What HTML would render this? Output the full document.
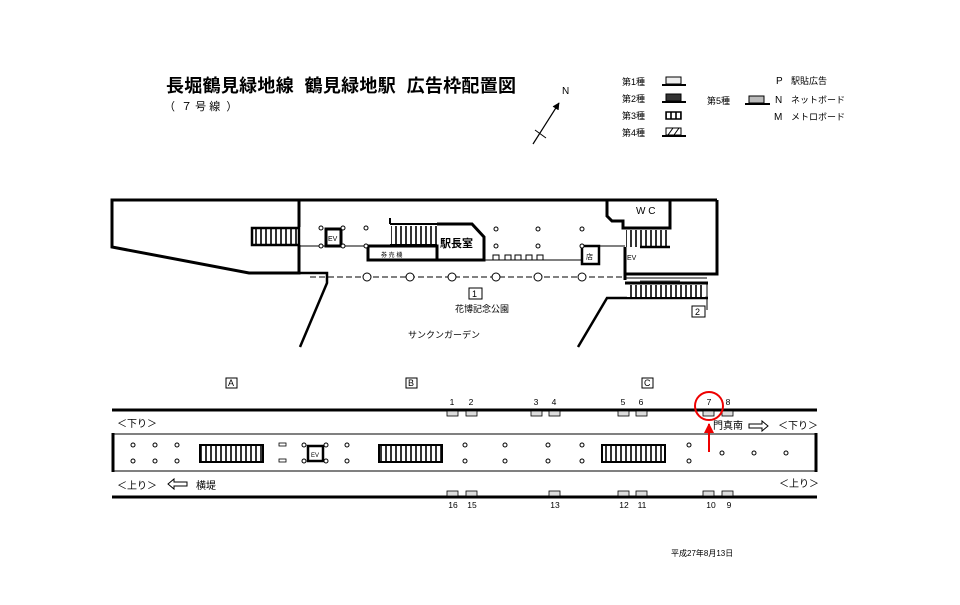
<!DOCTYPE html>
<html><head><meta charset="utf-8"><style>
html,body{margin:0;padding:0;background:#fff;}
svg{display:block;font-family:"Liberation Sans","Noto Sans CJK JP",sans-serif;}
</style></head><body>
<svg width="960" height="605" viewBox="0 0 960 605" xmlns="http://www.w3.org/2000/svg">
<defs>
<pattern id="st" width="5" height="10" patternUnits="userSpaceOnUse"><rect width="5" height="10" fill="#fff"/><line x1="1" y1="0" x2="1" y2="10" stroke="#000" stroke-width="1.6"/></pattern>
<marker id="ah" viewBox="0 0 10 10" refX="9" refY="5" markerWidth="6" markerHeight="6" orient="auto"><path d="M0,0L10,5L0,10z" fill="#000"/></marker>
<marker id="rh" viewBox="0 0 10 10" refX="9" refY="5" markerWidth="5" markerHeight="5" orient="auto"><path d="M0,0L10,5L0,10z" fill="#e00"/></marker>
</defs>
<!-- title -->
<text x="166" y="92" font-size="18" font-weight="bold" textLength="350" lengthAdjust="spacing" xml:space="preserve">長堀鶴見緑地線  鶴見緑地駅  広告枠配置図</text>
<text x="164" y="110" font-size="11" xml:space="preserve">（  ７ 号 線  ）</text>
<!-- north -->
<line x1="533" y1="144" x2="559" y2="103" stroke="#000" stroke-width="1.2" marker-end="url(#ah)"/>
<line x1="535" y1="130" x2="546" y2="138" stroke="#000" stroke-width="1"/>
<text x="562" y="94" font-size="10">N</text>
<!-- legend -->
<g font-size="9">
<text x="622" y="85">第1種</text><rect x="666" y="77" width="15" height="7" fill="#eee" stroke="#000"/><line x1="662" y1="85" x2="686" y2="85" stroke="#000" stroke-width="2"/>
<text x="622" y="102">第2種</text><rect x="666" y="94" width="15" height="7" fill="#333" stroke="#000"/><line x1="662" y1="102" x2="686" y2="102" stroke="#000" stroke-width="2"/>
<text x="622" y="119">第3種</text><rect x="666" y="112" width="15" height="7" fill="url(#st)" stroke="#000" stroke-width="1.5"/>
<text x="622" y="136">第4種</text><rect x="666" y="128" width="15" height="7" fill="#fff" stroke="#000"/><path d="M668,135l5,-7M674,135l5,-7" stroke="#000"/><line x1="662" y1="136" x2="686" y2="136" stroke="#000" stroke-width="2"/>
<text x="707" y="104">第5種</text><rect x="749" y="96" width="15" height="7" fill="#bbb" stroke="#000"/><line x1="745" y1="104" x2="770" y2="104" stroke="#000" stroke-width="2"/>
<text x="776" y="84" font-size="10">P</text><text x="791" y="84">駅貼広告</text>
<text x="775" y="103" font-size="10">N</text><text x="791" y="103">ネットボード</text>
<text x="774" y="120" font-size="10">M</text><text x="791" y="120">メトロボード</text>
</g>
<!-- concourse -->
<g fill="none" stroke="#000" stroke-width="3">
<polyline points="299,227 299,200 112,200 112,247 249,273 299,273 299,245"/>
<line x1="299" y1="200" x2="717" y2="200"/>
<polyline points="299,273 327,273 327,283 300,347" stroke-width="2.5"/>
<polyline points="607,200 607,216 612,221 623,221 623,228 670,228 670,200" />
<polyline points="717,200 717,274 625,274"/>
<polyline points="625,247 625,280"/>
<polyline points="368,246 368,260 437,260 437,246 368,246"/>
<polyline points="437,224 472,224 484,237 484,260 437,260"/>
<rect x="326" y="229" width="15" height="17"/>
<rect x="582" y="246" width="17" height="18" stroke-width="2.5"/>
<polyline points="625,283 708,283"/>
<polyline points="708,298 607,298 578,347" stroke-width="2.5"/>
</g>
<rect x="252" y="228" width="47" height="17" fill="url(#st)" stroke="#000" stroke-width="2.5"/>
<rect x="391" y="226" width="46" height="19" fill="url(#st)" stroke="none"/>
<path d="M390,224H437M390,245H437M390,224V218" stroke="#000" stroke-width="2" fill="none"/>
<rect x="626" y="230" width="43" height="17" fill="url(#st)"/><line x1="640" y1="247" x2="670" y2="247" stroke="#000" stroke-width="2.5"/>
<rect x="627" y="285" width="78" height="12" fill="url(#st)"/>
<line x1="707" y1="283" x2="707" y2="310" stroke="#000"/>
<line x1="625" y1="278" x2="707" y2="278" stroke="#000" stroke-width="1"/>
<line x1="640" y1="281" x2="680" y2="281" stroke="#000" stroke-width="0.8"/>
<line x1="299" y1="246" x2="368" y2="246" stroke="#000" stroke-width="1"/>
<line x1="484" y1="260" x2="582" y2="260" stroke="#000" stroke-width="1"/>
<line x1="582" y1="246" x2="625" y2="246" stroke="#000" stroke-width="1"/>
<line x1="310" y1="277" x2="625" y2="277" stroke="#000" stroke-width="1" stroke-dasharray="6,3"/>
<g fill="#fff" stroke="#000" stroke-width="1">
<circle cx="367" cy="277" r="4"/><circle cx="410" cy="277" r="4"/><circle cx="452" cy="277" r="4"/><circle cx="496" cy="277" r="4"/><circle cx="538" cy="277" r="4"/><circle cx="582" cy="277" r="4"/>
<circle cx="321" cy="228" r="2"/><circle cx="343" cy="228" r="2"/><circle cx="366" cy="228" r="2"/><circle cx="321" cy="246" r="2"/><circle cx="343" cy="246" r="2"/><circle cx="366" cy="246" r="2"/>
<circle cx="496" cy="229" r="2"/><circle cx="538" cy="229" r="2"/><circle cx="582" cy="229" r="2"/><circle cx="496" cy="246" r="2"/><circle cx="538" cy="246" r="2"/><circle cx="582" cy="246" r="2"/>
<rect x="493" y="255" width="6" height="5"/><rect x="505" y="255" width="6" height="5"/><rect x="515" y="255" width="6" height="5"/><rect x="526" y="255" width="6" height="5"/><rect x="537" y="255" width="6" height="5"/>
</g>
<g font-size="7"><text x="328" y="241">EV</text><text x="586" y="259">店</text><text x="627" y="260">EV</text><text x="381" y="257" font-size="6">券 売 機</text></g>
<text x="440" y="247" font-size="11" font-weight="bold">駅長室</text>
<text x="636" y="214" font-size="10">W C</text>
<rect x="469" y="288" width="13" height="11" fill="none" stroke="#000"/><text x="472" y="297" font-size="9">1</text>
<rect x="692" y="306" width="13" height="11" fill="none" stroke="#000"/><text x="695" y="315" font-size="9">2</text>
<text x="455" y="312" font-size="9">花博記念公園</text>
<text x="408" y="338" font-size="9">サンクンガーデン</text>
<!-- platform -->
<g font-size="9">
<rect x="226" y="378" width="11" height="10" fill="none" stroke="#000"/><text x="228" y="386">A</text>
<rect x="406" y="378" width="11" height="10" fill="none" stroke="#000"/><text x="408" y="386">B</text>
<rect x="642" y="378" width="11" height="10" fill="none" stroke="#000"/><text x="644" y="386">C</text>
</g>
<line x1="112" y1="410" x2="817" y2="410" stroke="#000" stroke-width="3"/>
<line x1="112" y1="497" x2="817" y2="497" stroke="#000" stroke-width="3"/>
<rect x="113" y="434" width="703" height="37" fill="none" stroke="#000" stroke-width="1"/>
<line x1="113" y1="433" x2="113" y2="472" stroke="#000" stroke-width="3"/>
<line x1="816" y1="433" x2="816" y2="472" stroke="#000" stroke-width="3"/>
<g fill="#ddd" stroke="#000" stroke-width="0.8">
<rect x="447" y="411" width="11" height="5"/><rect x="466" y="411" width="11" height="5"/><rect x="531" y="411" width="11" height="5"/><rect x="549" y="411" width="11" height="5"/><rect x="618" y="411" width="11" height="5"/><rect x="636" y="411" width="11" height="5"/><rect x="703" y="411" width="11" height="5"/><rect x="722" y="411" width="11" height="5"/>
<rect x="447" y="491" width="11" height="5"/><rect x="466" y="491" width="11" height="5"/><rect x="549" y="491" width="11" height="5"/><rect x="618" y="491" width="11" height="5"/><rect x="636" y="491" width="11" height="5"/><rect x="703" y="491" width="11" height="5"/><rect x="722" y="491" width="11" height="5"/>
</g>
<g font-size="8.5" text-anchor="middle">
<text x="452" y="405">1</text><text x="471" y="405">2</text><text x="536" y="405">3</text><text x="554" y="405">4</text><text x="623" y="405">5</text><text x="641" y="405">6</text><text x="709" y="405">7</text><text x="728" y="405">8</text>
<text x="453" y="508">16</text><text x="472" y="508">15</text><text x="555" y="508">13</text><text x="624" y="508">12</text><text x="642" y="508">11</text><text x="711" y="508">10</text><text x="729" y="508">9</text>
</g>
<g font-size="10">
<text x="117" y="427">＜下り＞</text>
<text x="117" y="489">＜上り＞</text>
<text x="196" y="489">横堤</text>
<text x="713" y="429">門真南</text>
<text x="778" y="429">＜下り＞</text>
<text x="779" y="487">＜上り＞</text>
</g>
<path d="M168,484l6,-5v3h13v4h-13v3z" fill="#fff" stroke="#000"/>
<path d="M768,426l-6,-5v3h-13v4h13v3z" fill="#fff" stroke="#000"/>
<!-- platform stairs -->
<rect x="200" y="445" width="63" height="17" fill="url(#st)" stroke="#000" stroke-width="2"/>
<rect x="379" y="445" width="63" height="17" fill="url(#st)" stroke="#000" stroke-width="2"/>
<rect x="602" y="445" width="63" height="17" fill="url(#st)" stroke="#000" stroke-width="2"/>
<rect x="308" y="446" width="15" height="15" fill="#fff" stroke="#000" stroke-width="2.5"/>
<text x="311" y="457" font-size="6">EV</text>
<g fill="#fff" stroke="#000" stroke-width="0.8">
<rect x="279" y="443" width="7" height="3"/><rect x="279" y="459" width="7" height="3"/>
</g>
<g fill="#fff" stroke="#000" stroke-width="1">
<circle cx="133" cy="445" r="2"/><circle cx="155" cy="445" r="2"/><circle cx="177" cy="445" r="2"/>
<circle cx="133" cy="461" r="2"/><circle cx="155" cy="461" r="2"/><circle cx="177" cy="461" r="2"/>
<circle cx="304" cy="445" r="2"/><circle cx="326" cy="445" r="2"/><circle cx="347" cy="445" r="2"/>
<circle cx="304" cy="461" r="2"/><circle cx="326" cy="461" r="2"/><circle cx="347" cy="461" r="2"/>
<circle cx="465" cy="445" r="2"/><circle cx="505" cy="445" r="2"/><circle cx="548" cy="445" r="2"/><circle cx="582" cy="445" r="2"/><circle cx="689" cy="445" r="2"/>
<circle cx="465" cy="461" r="2"/><circle cx="505" cy="461" r="2"/><circle cx="548" cy="461" r="2"/><circle cx="582" cy="461" r="2"/><circle cx="689" cy="461" r="2"/>
<circle cx="722" cy="453" r="2"/><circle cx="754" cy="453" r="2"/><circle cx="786" cy="453" r="2"/>
</g>
<!-- red marker -->
<circle cx="709" cy="406" r="14" fill="none" stroke="#e00" stroke-width="2"/>
<line x1="709" y1="452" x2="709" y2="424" stroke="#e00" stroke-width="2" marker-end="url(#rh)"/>
<text x="671" y="556" font-size="8">平成27年8月13日</text>
</svg>
</body></html>
